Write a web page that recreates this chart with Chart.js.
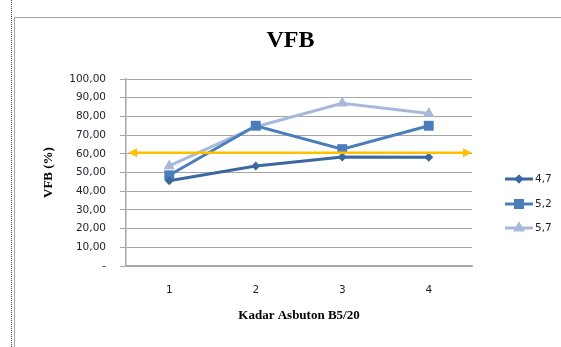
<!DOCTYPE html>
<html>
<head>
<meta charset="utf-8">
<script src="https://cdn.jsdelivr.net/npm/chart.js@4/dist/chart.umd.min.js"></script>
<style>
  body { margin: 0; background: #fff; }
  #wrap { position: relative; width: 561px; height: 347px; overflow: hidden; }
  #frame { position: absolute; left: 14px; top: 17px; width: 600px; height: 400px; border: 1px solid #a6a6a6; }
  #margin { position: absolute; left: 11px; top: 0; height: 347px; border-left: 1px dotted #444; }
  canvas { position: absolute; left: 0; top: 0; }
</style>
</head>
<body>
<div id="wrap">
  <div id="margin"></div>
  <div id="frame"></div>
  <canvas id="vfbChart" width="561" height="347"></canvas>
</div>
<script>
const categories = ["1", "2", "3", "4"];
const seriesNames = ["4,7", "5,2", "5,7"];
const vfb47 = [45.6, 53.5, 58.3, 58.2];
const vfb52 = [48.5, 75.0, 62.5, 75.0];
const vfb57 = [53.5, 74.5, 87.0, 81.6];
const batasVfb = 60.6;
const yTicks = [0, 10, 20, 30, 40, 50, 60, 70, 80, 90, 100];

const colors = ["#3b68a2", "#4a7ebb", "#a7b9da"];
const markers = [
  { style: "rectRot", radius: 4.5 },
  { style: "rect", radius: 7 },
  { style: "triangle", radius: 6.5 },
];

const gridGray = "#a6a6a6";
const labelColor = "#1f1f2f";
const serif = "'Liberation Serif', 'Times New Roman', serif";
const sans = "'DejaVu Sans', Verdana, sans-serif";

// arrow line for the VFB limit + title + legend, drawn on the canvas
const extrasPlugin = {
  id: "extras",
  afterDatasetsDraw(chart) {
    const ctx = chart.ctx;
    const area = chart.chartArea;
    const y = chart.scales.y.getPixelForValue(batasVfb);
    const left = area.left + 2;
    const right = area.right;
    ctx.save();
    ctx.strokeStyle = "#ffc000";
    ctx.fillStyle = "#ffc000";
    ctx.lineWidth = 2.5;
    ctx.beginPath();
    ctx.moveTo(left + 6, y);
    ctx.lineTo(right - 6, y);
    ctx.stroke();
    ctx.beginPath();
    ctx.moveTo(left, y);
    ctx.lineTo(left + 9, y - 4.5);
    ctx.lineTo(left + 9, y + 4.5);
    ctx.closePath();
    ctx.fill();
    ctx.beginPath();
    ctx.moveTo(right, y);
    ctx.lineTo(right - 9, y - 4.5);
    ctx.lineTo(right - 9, y + 4.5);
    ctx.closePath();
    ctx.fill();
    ctx.restore();
  },
  afterDraw(chart) {
    const ctx = chart.ctx;
    ctx.save();
    ctx.fillStyle = "#000";
    ctx.font = "bold 24px " + serif;
    ctx.textAlign = "center";
    ctx.textBaseline = "middle";
    ctx.fillText("VFB", 290.5, 41);

    const legendY = [179, 204, 228];
    chart.data.datasets.forEach((ds, i) => {
      const y = legendY[i];
      ctx.strokeStyle = ds.borderColor;
      ctx.lineWidth = 3;
      ctx.beginPath();
      ctx.moveTo(505, y);
      ctx.lineTo(533, y);
      ctx.stroke();
      ctx.fillStyle = ds.borderColor;
      Chart.helpers.drawPoint(ctx, {
        pointStyle: markers[i].style,
        radius: markers[i].radius,
        rotation: 0,
        borderWidth: 0,
      }, 519, y);
      ctx.fill();
      ctx.fillStyle = labelColor;
      ctx.font = "10.5px " + sans;
      ctx.textAlign = "left";
      ctx.textBaseline = "middle";
      ctx.fillText(ds.label, 535, y + 0.5);
    });
    ctx.restore();
  },
};

function makeSeries(i, data) {
  return {
    label: seriesNames[i],
    data: data,
    borderColor: colors[i],
    backgroundColor: colors[i],
    borderWidth: 3,
    pointStyle: markers[i].style,
    pointRadius: markers[i].radius,
    pointBorderWidth: 0,
    pointBackgroundColor: colors[i],
    tension: 0,
  };
}

document.addEventListener("DOMContentLoaded", function () {
  const ctx = document.getElementById("vfbChart").getContext("2d");
  new Chart(ctx, {
    type: "line",
    data: {
      labels: categories,
      datasets: [
        makeSeries(0, vfb47),
        makeSeries(1, vfb52),
        makeSeries(2, vfb57),
      ],
    },
    options: {
      responsive: false,
      animation: false,
      layout: { padding: { left: 0, top: 79, right: 89, bottom: 0 } },
      plugins: {
        legend: { display: false },
        title: { display: false },
        tooltip: { enabled: false },
      },
      scales: {
        x: {
          offset: true,
          grid: { display: false, drawTicks: false },
          border: { display: true, color: gridGray, width: 1.5 },
          ticks: {
            color: labelColor,
            font: { family: sans, size: 10.5 },
            padding: 18,
          },
          title: {
            display: true,
            text: "Kadar Asbuton B5/20",
            color: "#000",
            font: { family: serif, size: 13, weight: "bold" },
            padding: { top: 0, bottom: 24 },
          },
          afterFit(scale) {
            scale.height = 81;
          },
        },
        y: {
          min: 0,
          max: 100,
          afterBuildTicks(scale) {
            scale.ticks = yTicks.map((v) => ({ value: v }));
          },
          grid: {
            color: gridGray,
            lineWidth: 1,
            drawTicks: true,
            tickLength: 6,
            tickColor: gridGray,
          },
          border: { display: true, color: gridGray, width: 1.5 },
          ticks: {
            color: labelColor,
            font: { family: sans, size: 10.5 },
            padding: 14,
            callback: function (value) {
              return value === 0 ? "-" : value.toFixed(2).replace(".", ",");
            },
          },
          title: {
            display: true,
            text: "VFB (%)",
            color: "#000",
            font: { family: serif, size: 13, weight: "bold" },
            padding: { top: 41, bottom: 0 },
          },
          afterFit(scale) {
            scale.width = 126;
          },
        },
      },
    },
    plugins: [extrasPlugin],
  });
});
</script>
</body>
</html>
